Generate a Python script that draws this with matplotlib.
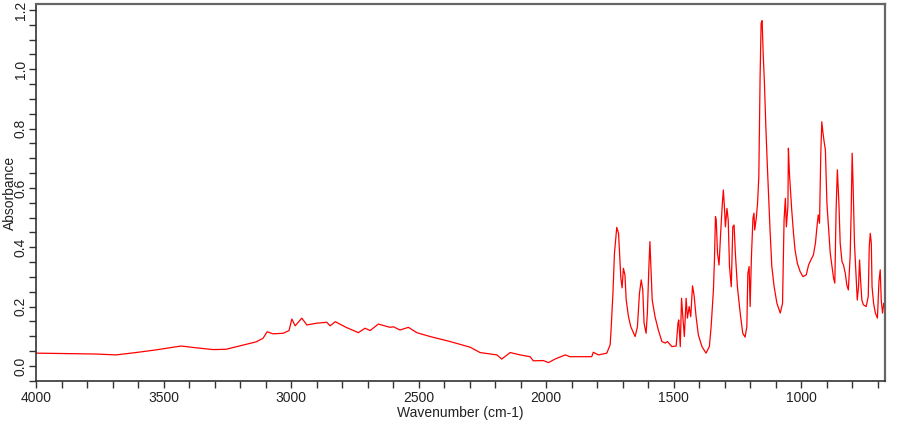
import numpy as np
import matplotlib.pyplot as plt
from matplotlib.ticker import MultipleLocator

plt.rcParams['font.family'] = ['Liberation Sans', 'DejaVu Sans']

# IR spectrum: wavenumber (cm-1) and absorbance
wavenumber = [
    4000, 3765, 3686, 3608, 3529, 3431, 3373, 3306, 3255, 3188, 3137, 3110,
    3094, 3071, 3031, 3008, 2997, 2984, 2958, 2938, 2899, 2860, 2847, 2827,
    2782, 2736, 2710, 2690, 2658, 2612, 2599, 2573, 2540, 2507, 2455, 2376,
    2298, 2259, 2193, 2174, 2141, 2102, 2063, 2050, 2011, 1991, 1965, 1925,
    1906, 1854, 1821, 1815, 1795, 1762, 1749,
    1746, 1738, 1732, 1723, 1716, 1712, 1707, 1702, 1697, 1691, 1686, 1677,
    1668, 1651, 1642, 1634, 1627, 1621, 1616, 1608, 1603, 1597, 1593, 1589,
    1584, 1573, 1560, 1546, 1533, 1524, 1507, 1490, 1483, 1480, 1474, 1469,
    1464, 1458, 1451, 1446, 1439, 1433, 1426, 1420, 1412, 1403, 1389, 1373,
    1360, 1353, 1344, 1340, 1336, 1333, 1328, 1322, 1315, 1309, 1305, 1301,
    1297, 1291, 1286, 1281, 1274, 1268, 1263, 1258, 1250, 1239, 1229, 1220,
    1213, 1209, 1204, 1200, 1195, 1189, 1185, 1182, 1176, 1171, 1166, 1161,
    1157, 1153, 1149, 1144, 1138, 1133, 1128, 1122, 1115, 1106, 1095, 1082,
    1073, 1067, 1062, 1058, 1052, 1050, 1046, 1037, 1030, 1024, 1015, 1004,
    993, 980, 971, 962, 952, 944, 938, 933, 928, 923, 919, 915,
    910, 905, 899, 893, 886, 880, 873, 868, 863, 858, 852, 847,
    840, 834, 827, 821, 815, 808, 804, 800, 796, 791, 785, 780,
    775, 771, 767, 762, 756, 745, 737, 733, 729, 725, 722, 716,
    709, 701, 695, 690, 686, 681, 676, 673,
]
absorbance = [
    0.043, 0.040, 0.037, 0.045, 0.054, 0.067, 0.061, 0.055, 0.056, 0.070, 0.081, 0.093,
    0.115, 0.108, 0.110, 0.119, 0.158, 0.135, 0.161, 0.138, 0.144, 0.147, 0.135, 0.149,
    0.129, 0.112, 0.127, 0.119, 0.141, 0.130, 0.132, 0.121, 0.130, 0.112, 0.099, 0.082,
    0.063, 0.045, 0.037, 0.023, 0.045, 0.037, 0.031, 0.017, 0.018, 0.011, 0.023, 0.037,
    0.031, 0.031, 0.031, 0.046, 0.037, 0.043, 0.071,
    0.110, 0.245, 0.380, 0.467, 0.447, 0.380, 0.296, 0.263, 0.329, 0.307, 0.222, 0.166,
    0.132, 0.099, 0.132, 0.245, 0.290, 0.256, 0.144, 0.110, 0.178, 0.335, 0.419, 0.335,
    0.222, 0.166, 0.121, 0.082, 0.077, 0.082, 0.065, 0.067, 0.144, 0.155, 0.065, 0.228,
    0.166, 0.099, 0.228, 0.161, 0.200, 0.166, 0.270, 0.239, 0.166, 0.104, 0.065, 0.043,
    0.065, 0.132, 0.256, 0.357, 0.503, 0.492, 0.380, 0.340, 0.458, 0.548, 0.593, 0.537,
    0.469, 0.531, 0.492, 0.335, 0.267, 0.469, 0.475, 0.380, 0.267, 0.178, 0.110, 0.097,
    0.132, 0.312, 0.335, 0.200, 0.368, 0.498, 0.515, 0.458, 0.498, 0.548, 0.638, 0.975,
    1.155, 1.164, 1.054, 0.953, 0.795, 0.683, 0.582, 0.458, 0.335, 0.267, 0.211, 0.178,
    0.211, 0.492, 0.565, 0.469, 0.537, 0.734, 0.649, 0.526, 0.447, 0.391, 0.346, 0.318,
    0.301, 0.307, 0.340, 0.357, 0.374, 0.414, 0.469, 0.509, 0.481, 0.717, 0.823, 0.790,
    0.756, 0.728, 0.548, 0.469, 0.380, 0.340, 0.296, 0.279, 0.526, 0.661, 0.548, 0.414,
    0.352, 0.340, 0.312, 0.273, 0.256, 0.368, 0.515, 0.717, 0.599, 0.414, 0.312, 0.222,
    0.267, 0.357, 0.290, 0.222, 0.206, 0.200, 0.234, 0.402, 0.447, 0.414, 0.267, 0.211,
    0.178, 0.161, 0.284, 0.324, 0.222, 0.178, 0.211, 0.200,
]

fig = plt.figure(figsize=(9.1, 4.25), dpi=100)
ax = fig.add_axes([0.0396, 0.1035, 0.933, 0.887])

ax.plot(wavenumber, absorbance, color='#ff0000', linewidth=0.9)

ax.set_xlim(4000, 671)
ax.set_ylim(-0.051, 1.22)

ax.xaxis.set_major_locator(MultipleLocator(500))
ax.xaxis.set_minor_locator(MultipleLocator(100))
ax.yaxis.set_major_locator(MultipleLocator(0.2))
ax.yaxis.set_minor_locator(MultipleLocator(0.05))
ax.yaxis.set_major_formatter(plt.FuncFormatter(lambda v, p: f"{v:.1f}"))

ax.tick_params(which='both', direction='out', length=5, width=1, color='#333333',
               labelsize=10, labelcolor='#222222')
ax.tick_params(axis='x', pad=2)
ax.tick_params(axis='y', pad=1)
for lbl in ax.get_yticklabels():
    lbl.set_rotation(90)
    lbl.set_va('center')

for side in ['left', 'bottom']:
    ax.spines[side].set_color('#333333')
    ax.spines[side].set_linewidth(1.2)
for side in ['top', 'right']:
    ax.spines[side].set_color('#666666')
    ax.spines[side].set_linewidth(1.6)

ax.set_xlabel('Wavenumber (cm-1)', fontsize=10, labelpad=1, color='#222222')
ax.set_ylabel('Absorbance', fontsize=10, labelpad=-2, color='#222222')

fig.savefig('out.png', dpi=100)
